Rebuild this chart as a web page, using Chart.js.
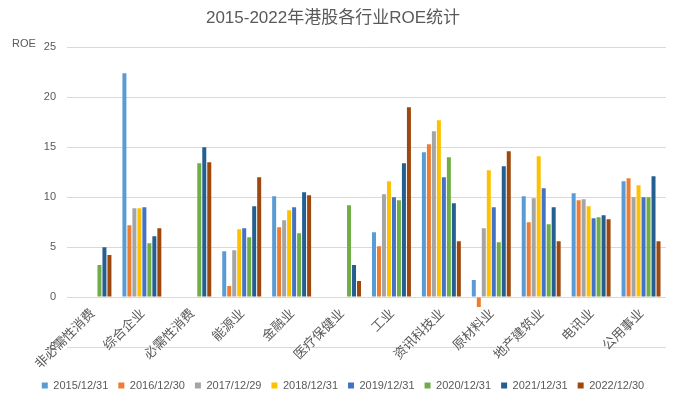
<!DOCTYPE html>
<html>
<head>
<meta charset="utf-8">
<script src="https://cdn.jsdelivr.net/npm/chart.js@4/dist/chart.umd.min.js"></script>
<style>
html,body{margin:0;padding:0;background:#fff;}
#wrap{width:677px;height:396px;position:relative;}
</style>
</head>
<body>
<div id="wrap"><canvas id="c" width="677" height="396"></canvas></div>
<script>
const categories = ['非必需性消费','综合企业','必需性消费','能源业','金融业','医疗保健业','工业','资讯科技业','原材料业','地产建筑业','电讯业','公用事业'];
const seriesNames = ['2015/12/31','2016/12/30','2017/12/29','2018/12/31','2019/12/31','2020/12/31','2021/12/31','2022/12/30'];
const roe2015 = [null, 22.4, null, 4.6, 10.1, null, 6.5, 14.5, 1.7, 10.1, 10.4, 11.6];
const roe2016 = [null, 7.2, null, 1.1, 7.0, null, 5.1, 15.3, -1.0, 7.5, 9.7, 11.9];
const roe2017 = [null, 8.9, null, 4.7, 7.7, null, 10.3, 16.6, 6.9, 9.9, 9.8, 10.0];
const roe2018 = [null, 8.9, null, 6.8, 8.7, null, 11.6, 17.7, 12.7, 14.1, 9.1, 11.2];
const roe2019 = [null, 9.0, null, 6.9, 9.0, null, 10.0, 12.0, 9.0, 10.9, 7.9, 10.0];
const roe2020 = [3.2, 5.4, 13.4, 6.0, 6.4, 9.2, 9.7, 14.0, 5.5, 7.3, 8.0, 10.0];
const roe2021 = [5.0, 6.1, 15.0, 9.1, 10.5, 3.2, 13.4, 9.4, 13.1, 9.0, 8.2, 12.1];
const roe2022 = [4.2, 6.9, 13.5, 12.0, 10.2, 1.6, 19.0, 5.6, 14.6, 5.6, 7.8, 5.6];
const yTicks = [-5, 0, 5, 10, 15, 20, 25];
const colors = ['#5B9BD5','#ED7D31','#A5A5A5','#FFC000','#4472C4','#70AD47','#255E91','#9E480E'];

const allSeries = [roe2015, roe2016, roe2017, roe2018, roe2019, roe2020, roe2021, roe2022];
const datasets = allSeries.map((d, i) => ({
  label: seriesNames[i],
  data: d,
  backgroundColor: colors[i],
  borderWidth: 0,
  barPercentage: 0.8,
  categoryPercentage: 0.8
}));

const roeLabel = {
  id: 'roeLabel',
  afterLayout(chart) {
    if (chart.legend) {
      chart.legend.left += 10;
      chart.legend.right += 10;
    }
  },
  afterDraw(chart) {
    const ctx = chart.ctx;
    ctx.save();
    ctx.font = '11px "Liberation Sans", Arial, sans-serif';
    ctx.fillStyle = '#595959';
    ctx.textAlign = 'left';
    ctx.textBaseline = 'middle';
    ctx.fillText('ROE', 12, chart.chartArea.top - 3);
    ctx.restore();
  }
};

new Chart(document.getElementById('c'), {
  type: 'bar',
  data: { labels: categories, datasets },
  plugins: [roeLabel],
  options: {
    responsive: false,
    animation: false,
    layout: { padding: { left: 0, right: 11, top: 0, bottom: -5 } },
    plugins: {
      title: {
        display: true,
        text: '2015-2022年港股各行业ROE统计',
        color: '#595959',
        font: { family: '"Liberation Sans", "Noto Sans CJK SC", sans-serif', size: 17, weight: 'normal' },
        padding: { top: 8, bottom: 19 }
      },
      legend: {
        position: 'bottom',
        labels: {
          color: '#595959',
          boxWidth: 6,
          boxHeight: 6,
          padding: 10,
          font: { family: '"Liberation Sans", Arial, sans-serif', size: 11 }
        }
      },
      tooltip: { enabled: false }
    },
    scales: {
      x: {
        position: { y: 0 },
        grid: { display: false, drawTicks: false },
        border: { display: false },
        ticks: {
          color: '#595959',
          minRotation: 45,
          maxRotation: 45,
          padding: 8,
          autoSkip: false,
          font: { family: '"Noto Sans CJK SC", sans-serif', size: 13 }
        }
      },
      xSpace: {
        type: 'category',
        position: 'bottom',
        display: true,
        grid: { display: false, drawTicks: false },
        border: { display: false },
        ticks: { display: false },
        afterFit(s) { s.height = 23; }
      },
      y: {
        min: -5,
        max: 25,
        afterFit(s) { s.width = 67; },
        afterBuildTicks(s) { s.ticks = yTicks.map(v => ({ value: v })); },
        grid: { color: '#D9D9D9', drawTicks: false },
        border: { display: false },
        ticks: {
          color: '#595959',
          padding: 11,
          font: { family: '"Liberation Sans", Arial, sans-serif', size: 11 }
        }
      }
    }
  }
});
</script>
</body>
</html>
